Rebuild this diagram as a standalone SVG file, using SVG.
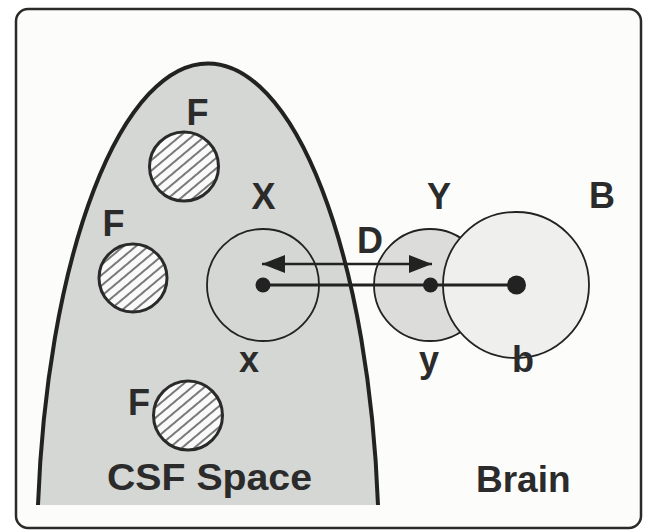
<svg xmlns="http://www.w3.org/2000/svg" width="654" height="531" viewBox="0 0 654 531">
<style>
  .lbl { font-family: "Liberation Sans", Arial, sans-serif; font-weight: bold; font-size: 36px; fill: #2b2b2b; }
  .big { font-size: 37px; }
  .fcirc { fill: url(#hatch); stroke: #2a2a2a; stroke-width: 3; }
  .ring { stroke: #222; stroke-width: 1.8; }
  .dot { fill: #222; }
</style>
<defs>
  <pattern id="hatch" patternUnits="userSpaceOnUse" width="8" height="8" patternTransform="rotate(-40)">
    <rect width="8" height="8" fill="#fafafa"/>
    <line x1="0" y1="4" x2="8" y2="4" stroke="#333" stroke-width="1.3"/>
  </pattern>
  <marker id="ah" viewBox="0 0 23 18" refX="23" refY="9" markerWidth="23" markerHeight="18" markerUnits="userSpaceOnUse" orient="auto-start-reverse">
    <path d="M0,0 L23,9 L0,18 Z" fill="#222"/>
  </marker>
</defs>
<rect x="0" y="0" width="654" height="531" fill="#ffffff"/>
<rect id="frame" x="16" y="9" width="625" height="519" rx="12" fill="#fcfcfb" stroke="#2a2a2a" stroke-width="2.5"/>

<g id="csf-space">
  <path d="M38,505 A171 495 0 0 1 378 505 Z" fill="#d4d7d3"/>
  <path d="M38,505 A171 495 0 0 1 378 505" fill="none" stroke="#222" stroke-width="4"/>
  <text class="lbl big" x="107" y="490" textLength="205" lengthAdjust="spacingAndGlyphs">CSF Space</text>
</g>

<g id="brain">
  <text class="lbl big" x="476" y="492">Brain</text>
</g>

<g id="F1">
  <circle class="fcirc" cx="184" cy="166.5" r="34.5"/>
  <text class="lbl" x="186.5" y="125">F</text>
</g>
<g id="F2">
  <circle class="fcirc" cx="133" cy="278" r="34"/>
  <text class="lbl" x="102.5" y="236">F</text>
</g>
<g id="F3">
  <circle class="fcirc" cx="188" cy="415.5" r="34.5"/>
  <text class="lbl" x="128" y="415">F</text>
</g>

<g id="X">
  <circle class="ring" cx="263" cy="285" r="56" fill="none"/>
  <text class="lbl" x="263.5" y="209" text-anchor="middle">X</text>
  <text class="lbl" x="249" y="372" text-anchor="middle">x</text>
</g>

<g id="Y">
  <circle class="ring" cx="430" cy="285" r="56" fill="#dcdddb"/>
  <text class="lbl" x="439" y="209" text-anchor="middle">Y</text>
  <text class="lbl" x="429" y="372" text-anchor="middle">y</text>
</g>

<g id="B">
  <circle class="ring" cx="516" cy="285" r="73" fill="#efefed"/>
  <text class="lbl" x="602" y="207.5" text-anchor="middle">B</text>
  <text class="lbl" x="523" y="372" text-anchor="middle">b</text>
</g>

<g id="connectors">
  <line x1="263" y1="285" x2="516" y2="285" stroke="#222" stroke-width="3"/>
  <line x1="262" y1="264" x2="432" y2="264" stroke="#222" stroke-width="2.5" marker-start="url(#ah)" marker-end="url(#ah)"/>
  <circle class="dot" cx="263" cy="285" r="7.5"/>
  <circle class="dot" cx="430.5" cy="285" r="7.5"/>
  <circle class="dot" cx="516.5" cy="285" r="9.5"/>
  <text class="lbl" x="357" y="253">D</text>
</g>
</svg>
